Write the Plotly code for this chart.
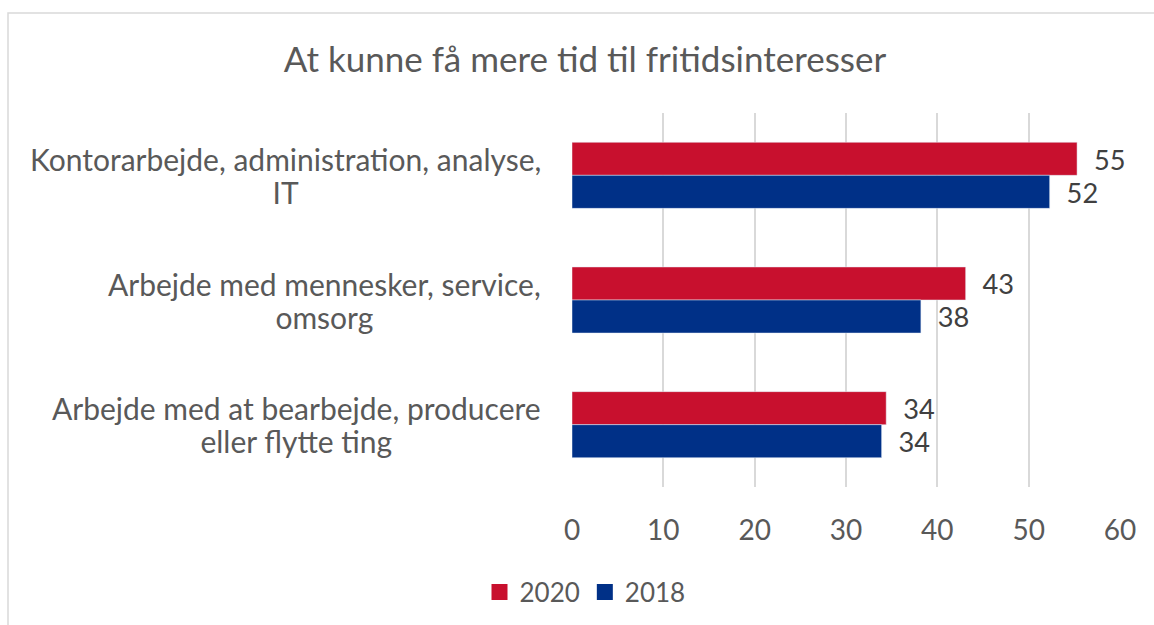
import plotly.graph_objects as go

categories = [
    ["Kontorarbejde, administration, analyse,", "IT"],
    ["Arbejde med mennesker, service,", "omsorg"],
    ["Arbejde med at bearbejde, producere", "eller flytte ting"],
]
values_2020 = [55.3, 43.1, 34.4]
values_2018 = [52.3, 38.2, 33.9]
tick_values = [0, 10, 20, 30, 40, 50, 60]

W, H = 1154, 625
ML, MR, MT, MB = 572, 34, 113, 138
FONT = "Lato"
GREY = "#595959"
RED, BLUE = "#C8102E", "#003087"

cat_ids = ["c0", "c1", "c2"]

fig = go.Figure()
for name, vals, col in [("2020", values_2020, RED), ("2018", values_2018, BLUE)]:
    fig.add_trace(go.Bar(
        y=cat_ids, x=vals, name=name, orientation="h",
        marker=dict(color=col), showlegend=False,
        texttemplate="  %{x:.0f}", textposition="outside",
        textfont=dict(family=FONT, size=28, color="#404040"),
        cliponaxis=False,
    ))
# legend entries with larger square markers
for name, col in [("2020", RED), ("2018", BLUE)]:
    fig.add_trace(go.Scatter(
        x=[None], y=[None], mode="markers", name=name,
        marker=dict(symbol="square", size=17, color=col),
    ))

for cid, lines in zip(cat_ids, categories):
    text = "<br>".join(f"<span style='font-size:30px'>{ln}</span>" for ln in lines)
    fig.add_annotation(
        x=0, xref="paper", y=cid, yref="y", text=text,
        xanchor="right", yanchor="middle", xshift=-29, align="center",
        showarrow=False, font=dict(family=FONT, size=25, color=GREY),
    )

pw = W - ML - MR
ph = H - MT - MB
fig.add_shape(
    type="rect", xref="paper", yref="paper",
    x0=(8 - ML) / pw, x1=(W + 10 - ML) / pw,
    y0=(H - MB - (H + 10)) / ph, y1=(H - MB - 13) / ph,
    line=dict(color="#D9D9D9", width=1.5), fillcolor="rgba(0,0,0,0)",
    layer="below",
)

fig.update_layout(
    width=W, height=H,
    margin=dict(l=ML, r=MR, t=MT, b=MB),
    paper_bgcolor="white", plot_bgcolor="white",
    barmode="group", bargap=0.47, bargroupgap=0,
    title=dict(text="At kunne få mere tid til fritidsinteresser",
               font=dict(family=FONT, size=35, color=GREY),
               x=585 / W, xref="container", xanchor="center",
               y=1 - 60 / H, yref="container", yanchor="middle"),
    xaxis=dict(range=[0, 60], tickvals=tick_values, showgrid=True,
               gridcolor="#D9D9D9", gridwidth=1.5, zeroline=False,
               showline=False, ticks="", ticklabelstandoff=24,
               tickfont=dict(family=FONT, size=28, color=GREY)),
    yaxis=dict(categoryorder="array", categoryarray=cat_ids,
               autorange="reversed", showticklabels=False,
               showgrid=False, zeroline=False, showline=False),
    legend=dict(orientation="h", x=585 / W, xref="container", xanchor="center",
                y=1 - 592 / H, yref="container", yanchor="middle",
                traceorder="normal", itemsizing="trace",
                font=dict(family=FONT, size=26, color=GREY)),
    showlegend=True,
)

fig.write_html("out.html", config={"displayModeBar": False},
               post_script="document.body.style.margin='0px';")
